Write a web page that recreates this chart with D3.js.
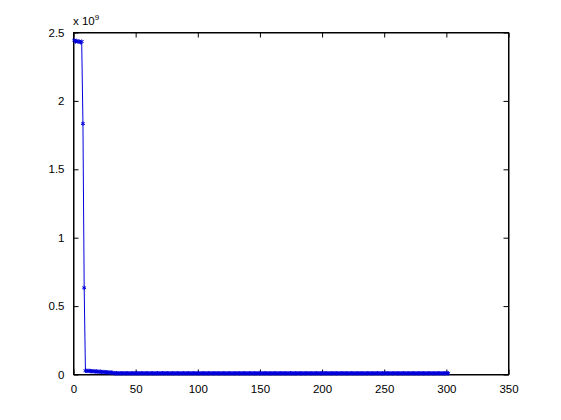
<!DOCTYPE html>
<html><head><meta charset="utf-8">
<script src="https://cdn.jsdelivr.net/npm/d3@7/dist/d3.min.js"></script>
<style>body{margin:0;background:#fff}svg{display:block}text{font-family:Arial,"Liberation Sans",Helvetica,sans-serif}</style>
</head><body><svg id="c" width="561" height="420"></svg>
<script>
// values in units of 10^9, index = 1..N
const headValues = [2.44, 2.43, 2.435, 2.43, 2.43, 2.425, 2.43, 1.83, 0.63];
const earlyValues = [0.024,0.023,0.022,0.023,0.021,0.020,0.021,0.019,0.018,0.019,0.017,0.016,0.017,0.015,0.014,0.015,0.013,0.012,0.013,0.011,0.010,0.010,0.009];
const tailValues = [
0.006,0.005,0.006,0.005,0.005,0.006,0.005,0.005,0.006,0.005,
0.005,0.006,0.005,0.005,0.005,0.006,0.005,0.005,0.006,0.005,
0.005,0.005,0.006,0.005,0.005,0.005,0.006,0.005,0.005,0.005,
0.006,0.005,0.005,0.005,0.005,0.006,0.005,0.005,0.005,0.006,
0.005,0.005,0.006,0.005,0.005,0.005,0.005,0.006,0.005,0.005,
0.005,0.006,0.005,0.005,0.005,0.005,0.006,0.005,0.005,0.005,
0.006,0.005,0.005,0.005,0.005,0.006,0.005,0.005,0.005,0.005,
0.005,0.006,0.005,0.005,0.005,0.005,0.005,0.006,0.005,0.005,
0.005,0.005,0.006,0.005,0.005,0.005,0.005,0.005,0.006,0.005,
0.005,0.005,0.005,0.006,0.005,0.005,0.005,0.005,0.005,0.006,
0.005,0.005,0.005,0.005,0.006,0.005,0.005,0.005,0.005,0.005,
0.006,0.005,0.005,0.005,0.005,0.005,0.006,0.005,0.005,0.005,
0.005,0.005,0.006,0.005,0.005,0.005,0.005,0.005,0.005,0.006,
0.005,0.005,0.005,0.005,0.005,0.006,0.005,0.005,0.005,0.005,
0.005,0.005,0.006,0.005,0.005,0.005,0.005,0.005,0.005,0.006,
0.005,0.005,0.005,0.005,0.005,0.005,0.006,0.005,0.005,0.005,
0.005,0.005,0.005,0.006,0.005,0.005,0.005,0.005,0.005,0.005,
0.006,0.005,0.005,0.005,0.005,0.005,0.005,0.006,0.005,0.005,
0.005,0.005,0.005,0.005,0.006,0.005,0.005,0.005,0.005,0.005,
0.005,0.006,0.005,0.005,0.005,0.005,0.005,0.005,0.006,0.005,
0.005,0.005,0.005,0.005,0.005,0.006,0.005,0.005,0.005,0.005,
0.005,0.005,0.006,0.005,0.005,0.005,0.005,0.005,0.005,0.006,
0.005,0.005,0.005,0.005,0.005,0.005,0.006,0.005,0.005,0.005,
0.005,0.005,0.005,0.006,0.005,0.005,0.005,0.005,0.005,0.005,
0.006,0.005,0.005,0.005,0.005,0.005,0.005,0.006,0.005,0.005,
0.005,0.005,0.005,0.005,0.006,0.005,0.005,0.005,0.005,0.005,
0.005,0.006,0.005,0.005,0.005,0.005,0.005,0.005,0.006,0.005
];
const xTicks = [0, 50, 100, 150, 200, 250, 300, 350];
const yTicks = [0, 0.5, 1, 1.5, 2, 2.5];
const yTickLabels = ["0", "0.5", "1", "1.5", "2", "2.5"];

const values = headValues.concat(earlyValues, tailValues);
const data = values.map((v, i) => ({x: i + 1, y: v}));

const L = 73, R = 508, T = 32, B = 374;
const svg = d3.select("#c");
const x = d3.scaleLinear().domain([0, 350]).range([L, R]);
const y = d3.scaleLinear().domain([0, 2.5]).range([B, T]);
const fs = "11.5px";
const blue = "#0000dd";

// box
svg.append("rect").attr("x", L + 0.5).attr("y", T + 0.5).attr("width", R - L).attr("height", B - T)
  .attr("fill", "#fff").attr("stroke", "#000").attr("stroke-width", 1);

// axes with inward ticks
const gx = svg.append("g").attr("transform", `translate(0.5,${B + 0.5})`)
  .call(d3.axisBottom(x).tickValues(xTicks).tickSizeInner(-5).tickSizeOuter(0).tickPadding(10).tickFormat(d3.format("d")));
const gxt = svg.append("g").attr("transform", `translate(0.5,${T + 0.5})`)
  .call(d3.axisTop(x).tickValues(xTicks).tickSizeInner(-5).tickSizeOuter(0).tickFormat(""));
const gy = svg.append("g").attr("transform", `translate(${L + 0.5},0.5)`)
  .call(d3.axisLeft(y).tickValues(yTicks).tickSizeInner(-5).tickSizeOuter(0).tickPadding(9).tickFormat((d, i) => yTickLabels[i]));
const gyr = svg.append("g").attr("transform", `translate(${R + 0.5},0.5)`)
  .call(d3.axisRight(y).tickValues(yTicks).tickSizeInner(-5).tickSizeOuter(0).tickFormat(""));
[gx, gxt, gy, gyr].forEach(g => {
  g.select(".domain").attr("stroke", "#000");
  g.selectAll(".tick line").attr("stroke", "#000");
  g.selectAll("text").attr("font-size", fs).attr("fill", "#000").style("font-family", "Arial, 'Liberation Sans', sans-serif");
});

// exponent label
const ex = svg.append("text").attr("x", L).attr("y", 25).attr("font-size", fs).attr("fill", "#000");
ex.append("tspan").text("x 10");
ex.append("tspan").attr("dy", -5).attr("font-size", "8px").text("9");

// line
const line = d3.line().x(d => x(d.x)).y(d => y(d.y));
svg.append("path").datum(data).attr("d", line).attr("fill", "none").attr("stroke", blue).attr("stroke-width", 1);

// markers (small asterisks)
const sym = d3.symbol().type(d3.symbolAsterisk).size(13);
svg.append("g").selectAll("path").data(data).join("path")
  .attr("transform", d => `translate(${x(d.x)},${y(d.y)})`)
  .attr("d", sym).attr("fill", "none").attr("stroke", blue).attr("stroke-width", 1);
</script></body></html>
